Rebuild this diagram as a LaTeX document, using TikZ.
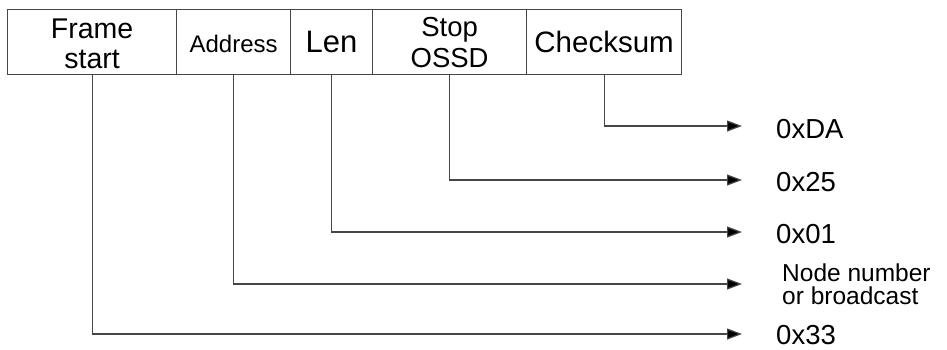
\documentclass[tikz,border=0pt]{standalone}
\usepackage{fontspec}
\setmainfont{Liberation Sans}
\usetikzlibrary{arrows.meta}
\definecolor{linegray}{RGB}{70,70,70}
\tikzset{
  cell/.style={draw=linegray, line width=1.2pt, rectangle, inner sep=0pt, anchor=north west,
    minimum height=65pt, align=center, font=\fontsize{27.5}{31}\selectfont},
  conn/.style={draw=linegray, line width=1.2pt, -{Triangle[length=15pt,width=11pt,fill=black]}},
  lab/.style={anchor=west, inner sep=0pt, font=\fontsize{27.5}{28}\selectfont, align=left}
}
\begin{document}
\begin{tikzpicture}[x=1pt,y=1pt]
\useasboundingbox (0,0) rectangle (947,-349);
% frame cells
\node[cell, minimum width=169pt, font=\fontsize{28.5}{31}\selectfont] (fs) at (7,-9) {\raisebox{-5pt}[\height][\depth]{\begin{tabular}{@{}c@{}}Frame\\[-1pt]start\end{tabular}}};
\node[cell, minimum width=114pt, font=\fontsize{24}{26}\selectfont] (addr) at (176,-9) {\raisebox{-2pt}[\height][\depth]{Address}};
\node[cell, minimum width=82pt, font=\fontsize{31}{32}\selectfont] (len) at (290,-9) {Len};
\node[cell, minimum width=154pt] (stop) at (372,-9) {Stop\\OSSD};
\node[cell, minimum width=155pt, font=\fontsize{29.5}{32}\selectfont] (cks) at (526,-9) {Checksum};
% arrow ends
\coordinate (eDA) at (742,-126);
\coordinate (e25) at (742,-180);
\coordinate (e01) at (742,-232);
\coordinate (eNode) at (742,-284);
\coordinate (e33) at (742,-334);
% labels
\node[lab] (lDA) at (776,-129) {0xDA};
\node[lab] (l25) at (776,-182) {0x25};
\node[lab] (l01) at (776,-234) {0x01};
\node[lab, font=\fontsize{24.5}{23.5}\selectfont] (lNode) at (782,-284) {Node number\\or broadcast};
\node[lab] (l33) at (776,-335) {0x33};
% connectors
\draw[conn] (cks.south) |- (eDA);
\draw[conn] (stop.south) |- (e25);
\draw[conn] (len.south) |- (e01);
\draw[conn] (addr.south) |- (eNode);
\draw[conn] (fs.south) |- (e33);
\end{tikzpicture}
\end{document}
